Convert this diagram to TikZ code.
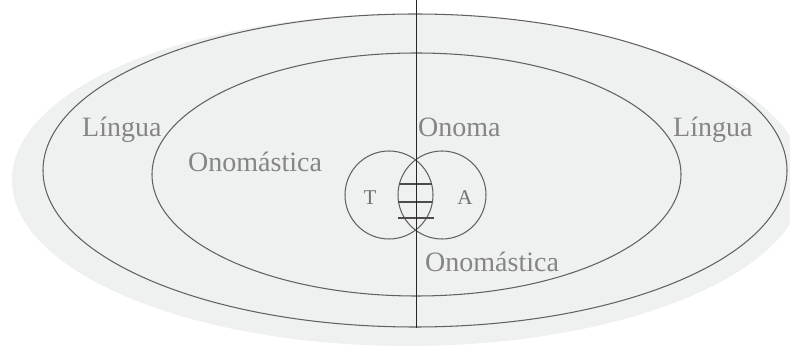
\documentclass[tikz,border=0pt]{standalone}
\usepackage{fontspec}
\setmainfont{Liberation Serif}
\begin{document}
\begin{tikzpicture}[x=1pt,y=-1pt,
  ring/.style={draw=black!62,line width=1.05pt},
  lbl/.style={anchor=base west,inner sep=0pt,text=black!48,font=\fontsize{28}{31}\selectfont},
  small/.style={anchor=base,inner sep=0pt,text=black!55,font=\fontsize{21}{24}\selectfont},
  rung/.style={draw=black!70,line width=1.05pt}]
\useasboundingbox (0,0) rectangle (790,352);
\fill[color={rgb,255:red,239;green,240;blue,240}] (408,180) ellipse [x radius=396,y radius=166];
\draw[ring] (415,170.5) ellipse [x radius=372,y radius=156.5];
\draw[ring] (416.5,174.5) ellipse [x radius=264.5,y radius=121.5];
\draw[ring] (389,195) circle [radius=44];
\draw[ring] (442,195) circle [radius=44];
\coordinate (r1a) at (399,184); \coordinate (r1b) at (432,184);
\coordinate (r2a) at (398,202); \coordinate (r2b) at (432,202);
\coordinate (r3a) at (398,218); \coordinate (r3b) at (434,218);
\draw[rung] (r1a) -- (r1b);
\draw[rung] (r2a) -- (r2b);
\draw[rung] (r3a) -- (r3b);
\coordinate (vtop) at (416.5,0);
\coordinate (vbot) at (416.5,328);
\draw[black!85,line width=0.9pt] (vtop) -- (vbot);
\node[lbl] (l1) at (82,137) {Língua};
\node[lbl] (l2) at (673,137) {Língua};
\node[lbl] (on) at (418,137) {Onoma};
\node[lbl] (o1) at (188,172) {Onomástica};
\node[lbl] (o2) at (425,272) {Onomástica};
\node[small] (t) at (370,205) {T};
\node[small] (a) at (465,205) {A};
\end{tikzpicture}
\end{document}
